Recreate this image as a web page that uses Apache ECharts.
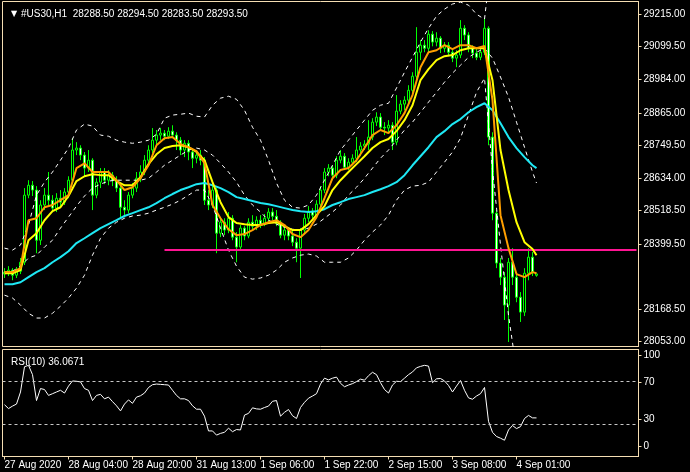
<!DOCTYPE html>
<html><head><meta charset="utf-8">
<script src="https://cdn.jsdelivr.net/npm/echarts@6/dist/echarts.min.js"></script>
<style>html,body{margin:0;padding:0;background:#000;}#c{width:690px;height:472px;}</style>
</head><body><div id="c"></div>
<script>
// ---- data ----
const symbolTitle = '#US30,H1  28288.50 28294.50 28283.50 28293.50';
const rsiTitle = 'RSI(10) 36.0671';
const timeLabels = ['27 Aug 2020','28 Aug 04:00','28 Aug 20:00','31 Aug 13:00','1 Sep 06:00','1 Sep 22:00','2 Sep 15:00','3 Sep 08:00','4 Sep 01:00'];
const priceTicks = [29215.00, 29099.50, 28984.00, 28865.00, 28749.50, 28634.00, 28518.50, 28399.50, 28168.50, 28053.00];
const rsiTicks = [0, 30, 70, 100];
const rsiLevels = [70, 30];
const levelPrice = 28378;
const levelFromBar = 40;
const lastPrice = 28293.5;
// [open, close, low, high]
const ohlc = [
[28293,28300,28279,28314],[28300,28307,28286,28321],[28307,28289,28271,28314],[28289,28303,28279,28318],
[28303,28335,28293,28350],[28335,28573,28325,28598],[28573,28608,28562,28626],[28608,28591,28570,28623],
[28591,28413,28367,28605],[28413,28538,28396,28555],[28538,28573,28520,28598],[28573,28555,28538,28655],
[28555,28527,28513,28573],[28527,28562,28513,28580],[28562,28548,28530,28591],[28548,28584,28538,28598],
[28584,28626,28562,28640],[28626,28733,28616,28775],[28733,28740,28715,28761],[28740,28715,28697,28750],
[28715,28669,28637,28726],[28669,28697,28655,28733],[28697,28573,28520,28704],[28573,28619,28562,28633],
[28619,28655,28598,28669],[28655,28626,28612,28669],[28626,28644,28608,28662],[28644,28626,28605,28655],
[28626,28598,28584,28640],[28598,28530,28491,28608],[28530,28520,28502,28555],[28520,28573,28509,28584],
[28573,28598,28562,28616],[28598,28633,28584,28655],[28633,28655,28619,28679],[28655,28697,28644,28715],
[28697,28733,28686,28750],[28733,28768,28722,28811],[28768,28786,28750,28804],[28786,28793,28768,28811],
[28793,28782,28768,28804],[28782,28800,28772,28814],[28800,28786,28775,28821],[28786,28768,28733,28796],
[28768,28733,28715,28779],[28733,28757,28708,28768],[28757,28726,28697,28768],[28726,28704,28669,28740],
[28704,28715,28686,28733],[28715,28697,28679,28733],[28697,28555,28538,28708],[28555,28538,28520,28591],
[28538,28591,28527,28608],[28591,28438,28367,28598],[28438,28477,28424,28491],[28477,28449,28431,28491],
[28449,28491,28438,28513],[28491,28424,28413,28502],[28424,28389,28335,28442],[28389,28456,28378,28467],
[28456,28428,28413,28463],[28428,28477,28420,28491],[28477,28463,28449,28502],[28463,28484,28449,28498],
[28484,28470,28456,28502],[28470,28491,28463,28506],[28491,28513,28477,28527],[28513,28498,28484,28527],
[28498,28477,28463,28520],[28477,28431,28420,28484],[28431,28449,28413,28463],[28449,28428,28413,28456],
[28428,28406,28392,28449],[28406,28385,28335,28420],[28385,28449,28279,28456],[28449,28491,28435,28506],
[28491,28516,28477,28534],[28516,28502,28484,28527],[28502,28541,28491,28555],[28541,28591,28527,28605],
[28591,28655,28580,28669],[28655,28669,28640,28683],[28669,28644,28626,28679],[28644,28697,28633,28711],
[28697,28711,28686,28733],[28711,28672,28662,28722],[28672,28690,28662,28704],[28690,28704,28679,28718],
[28704,28733,28690,28779],[28733,28747,28711,28761],[28747,28754,28733,28768],[28754,28779,28733,28839],
[28779,28832,28768,28846],[28832,28850,28818,28867],[28850,28814,28804,28864],[28814,28811,28786,28832],
[28811,28821,28796,28839],[28821,28761,28733,28832],[28761,28871,28750,28928],[28871,28896,28860,28910],
[28896,28910,28874,28924],[28910,28945,28896,28963],[28945,28995,28931,29009],[28995,29080,28981,29169],
[29080,29105,29052,29123],[29105,29094,29080,29123],[29094,29144,29080,29158],[29144,29116,29101,29155],
[29116,29130,29101,29151],[29130,29094,29077,29137],[29094,29105,29080,29116],[29105,29080,29066,29116],
[29080,29059,29045,29094],[29059,29070,29027,29087],[29070,29165,29059,29194],[29165,29141,29123,29176],
[29141,29094,29080,29151],[29094,29077,29059,29105],[29077,29062,29052,29094],[29062,29080,29052,29098],
[29080,29165,29070,29201],[29165,28779,28750,29172],[28779,28509,28484,28796],[28509,28332,28314,28520],
[28332,28282,28254,28350],[28282,28183,28130,28300],[28183,28335,28052,28350],[28335,28282,28254,28385],
[28282,28211,28193,28300],[28211,28158,28123,28229],[28158,28296,28144,28314],[28296,28353,28271,28385],
[28353,28300,28286,28371],[28288.5,28293.5,28283.5,28294.5]
];
// indicator values read every second bar (bars 0,2,4,...,132 and 133)
const maFast = [28300,28300,28314,28484,28491,28530,28538,28555,28573,28669,28686,28655,28655,28655,28626,28591,28601,28633,28679,28750,28775,28779,28754,28743,28729,28686,28538,28491,28452,28431,28435,28449,28467,28477,28484,28467,28435,28424,28449,28495,28562,28633,28662,28669,28697,28740,28786,28804,28793,28821,28864,28928,29027,29080,29087,29105,29091,29105,29105,29094,29102,28910,28502,28385,28293,28282,28300,28296];
const maMid = [28296,28296,28307,28413,28438,28484,28516,28530,28570,28623,28640,28647,28644,28644,28623,28608,28608,28637,28683,28718,28740,28747,28750,28743,28726,28697,28619,28548,28495,28474,28470,28467,28467,28474,28477,28463,28449,28449,28470,28502,28534,28591,28626,28655,28683,28711,28740,28761,28772,28800,28839,28892,28981,29020,29052,29066,29070,29087,29094,29094,29094,28981,28733,28591,28477,28406,28382,28360];
const maSlow = [28257,28257,28264,28282,28300,28314,28335,28353,28374,28403,28420,28438,28456,28470,28484,28499,28509,28520,28530,28545,28562,28577,28591,28601,28612,28616,28608,28598,28584,28566,28559,28552,28545,28541,28534,28527,28520,28516,28513,28516,28523,28538,28548,28559,28566,28573,28584,28594,28605,28619,28644,28679,28711,28743,28779,28800,28825,28843,28867,28885,28899,28874,28828,28779,28740,28708,28679,28669];
const bbUpper = [28385,28378,28396,28467,28573,28619,28655,28697,28740,28804,28825,28818,28786,28782,28768,28761,28757,28761,28768,28789,28846,28857,28860,28864,28853,28850,28892,28917,28924,28913,28874,28814,28768,28697,28616,28555,28530,28527,28538,28573,28626,28679,28733,28768,28804,28839,28874,28892,28899,28953,29009,29062,29116,29165,29208,29233,29251,29258,29247,29215,29197,29442,29584,29690,29726,29761,29797,29797];
const bbMiddle = [28300,28303,28321,28350,28360,28389,28413,28456,28495,28534,28570,28598,28612,28623,28626,28626,28626,28626,28633,28655,28679,28697,28715,28733,28740,28733,28715,28686,28655,28619,28573,28538,28513,28484,28470,28459,28452,28449,28456,28470,28491,28513,28538,28573,28601,28633,28669,28704,28733,28768,28804,28832,28867,28903,28938,28974,29006,29034,29062,29080,29094,29059,28992,28921,28832,28743,28655,28616];
const bbLower = [28218,28208,28183,28154,28137,28137,28154,28179,28208,28243,28289,28360,28420,28456,28477,28491,28499,28502,28509,28520,28530,28541,28555,28573,28591,28591,28538,28456,28378,28321,28282,28275,28279,28289,28307,28335,28350,28360,28364,28357,28335,28335,28335,28350,28378,28413,28442,28467,28502,28555,28591,28605,28608,28619,28655,28690,28726,28775,28857,28938,28988,28662,28396,28147,27952,27775,27669,27633];
const rsi = [48.4,44.8,47.1,49.0,60.3,83.9,85.2,76.5,52.3,63.5,62.6,57.1,58.7,60.3,61.9,59.3,65.8,70.6,70.3,69.7,
63.5,61.9,52.3,57.1,58.1,53.9,55.5,51.3,47.4,42.6,49.0,52.9,49.7,55.5,56.8,59.3,64.5,67.1,67.7,67.4,
67.1,66.8,61.9,57.1,53.9,53.9,52.3,47.4,44.2,44.2,37.7,23.9,23.9,20.0,21.6,22.6,26.5,23.2,25.2,24.8,
38.7,40.3,45.5,44.5,44.2,45.8,47.1,51.6,52.3,37.7,41.3,43.9,38.1,35.5,45.8,50.6,54.5,56.5,58.7,67.7,
73.2,71.6,73.2,74.2,68.4,65.2,66.8,68.1,70.0,72.3,71.3,75.5,78.7,76.5,69.0,62.6,59.3,66.8,70.3,70.0,
73.2,76.5,79.0,82.9,84.2,85.2,84.5,69.0,72.6,72.9,70.6,66.4,60.3,65.8,71.0,61.9,54.8,53.5,56.5,58.7,
64.5,32.9,22.6,18.7,17.1,15.2,24.8,29.0,26.1,27.9,35.5,38.4,36.1,36.07];

// ---- chart ----
const NBARS = 159; // visible slots incl. right shift
const categories = Array.from({length: NBARS}, (_, i) => String(i));
const sampleIdx = Array.from({length: 67}, (_, k) => 2 * k).concat([133]);
const pairs = arr => arr.map((v, k) => [sampleIdx[k], v]);
const FRAME = '#f5deb3';
const FONT = 'Liberation Sans';
const FS = 10;
const chart = echarts.init(document.getElementById('c'), null, {renderer: 'canvas'});
const lineS = (data, color, width, type, z) => ({
  type: 'line', xAxisIndex: 0, yAxisIndex: 0, data: pairs(data), symbol: 'none',
  lineStyle: {color, width, type}, z, silent: true, clip: true, animation: false
});
chart.setOption({
  animation: false,
  backgroundColor: '#000',
  title: [
    {text: '\u25BC', left: 6, top: 5, textStyle: {color: '#fff', fontSize: 8, fontFamily: 'DejaVu Sans', fontWeight: 'normal'}},
    {text: symbolTitle, left: 16, top: 4, textStyle: {color: '#fff', fontSize: FS, fontFamily: FONT, fontWeight: 'normal'}},
    {text: rsiTitle, left: 6, top: 352, textStyle: {color: '#fff', fontSize: FS, fontFamily: FONT, fontWeight: 'normal'}}
  ],
  grid: [
    {left: 2.5, top: 1.5, width: 636, height: 345, show: true, borderColor: FRAME, borderWidth: 1, backgroundColor: 'transparent', outerBoundsMode: 'none'},
    {left: 2.5, top: 349.5, width: 636, height: 107, show: true, borderColor: FRAME, borderWidth: 1, backgroundColor: 'transparent', outerBoundsMode: 'none'}
  ],
  xAxis: [
    {type: 'category', gridIndex: 0, data: categories, boundaryGap: true, show: false},
    {type: 'category', gridIndex: 1, data: categories, boundaryGap: true,
     axisLine: {show: true, lineStyle: {color: FRAME}},
     axisTick: {show: true, alignWithLabel: true, length: 3, lineStyle: {color: FRAME},
                interval: (i) => i % 16 === 0 && i / 16 < timeLabels.length},
     axisLabel: {show: true, color: '#fff', fontSize: FS, fontFamily: FONT, align: 'left', margin: 4,
                 interval: (i) => i % 16 === 0 && i / 16 < timeLabels.length,
                 formatter: (v, i) => timeLabels[i / 16] || ''},
     splitLine: {show: false}}
  ],
  yAxis: [
    {type: 'value', gridIndex: 0, position: 'right', min: 28036, max: 29260, scale: true,
     axisLine: {show: true, lineStyle: {color: FRAME}},
     axisTick: {show: true, length: 3, lineStyle: {color: FRAME}, customValues: priceTicks},
     axisLabel: {show: true, color: '#fff', fontSize: FS, fontFamily: FONT, margin: 5,
                 customValues: priceTicks, formatter: v => v.toFixed(2)},
     splitLine: {show: false}},
    {type: 'value', gridIndex: 1, min: 0, max: 100, show: false},
    {type: 'value', gridIndex: 1, position: 'right', min: -10.9, max: 106,
     axisLine: {show: true, lineStyle: {color: FRAME}},
     axisTick: {show: true, length: 3, lineStyle: {color: FRAME}, customValues: rsiTicks},
     axisLabel: {show: true, color: '#fff', fontSize: FS, fontFamily: FONT, margin: 5, customValues: rsiTicks},
     splitLine: {show: false}}
  ],
  series: [
    {type: 'candlestick', xAxisIndex: 0, yAxisIndex: 0, data: ohlc, barWidth: 2, z: 2, silent: true,
     itemStyle: {color: '#000', color0: '#fff', borderColor: '#00ff00', borderColor0: '#00ff00', borderWidth: 1},
     markLine: {symbol: ['none', 'none'], silent: true, animation: false,
       data: [
         [{coord: [levelFromBar, levelPrice], lineStyle: {color: '#ff1493', width: 2, type: 'solid'}, label: {show: false}},
          {coord: [NBARS - 1, levelPrice]}],
         {yAxis: lastPrice, lineStyle: {opacity: 0},
          label: {show: true, position: 'end', distance: 1, formatter: lastPrice.toFixed(2), color: '#000',
                  backgroundColor: '#ffe0b0', padding: [2, 4, 1, 4], fontSize: FS, fontFamily: FONT}}
       ]}},
    lineS(bbUpper, '#ffffff', 1, [4, 4], 3),
    lineS(bbMiddle, '#ffffff', 1, [4, 4], 3),
    lineS(bbLower, '#ffffff', 1, [4, 4], 3),
    lineS(maSlow, '#1ee8f4', 2, 'solid', 4),
    lineS(maMid, '#ffff00', 2, 'solid', 5),
    lineS(maFast, '#ff9f00', 2, 'solid', 6),
    {type: 'line', xAxisIndex: 1, yAxisIndex: 1, data: rsi, symbol: 'none', silent: true,
     lineStyle: {color: '#ffffff', width: 1},
     markLine: {symbol: ['none', 'none'], silent: true, label: {show: false},
       lineStyle: {color: '#c8c8c8', width: 1, type: [3, 3]},
       data: rsiLevels.map(v => ({yAxis: v}))}}
  ]
});
</script></body></html>
